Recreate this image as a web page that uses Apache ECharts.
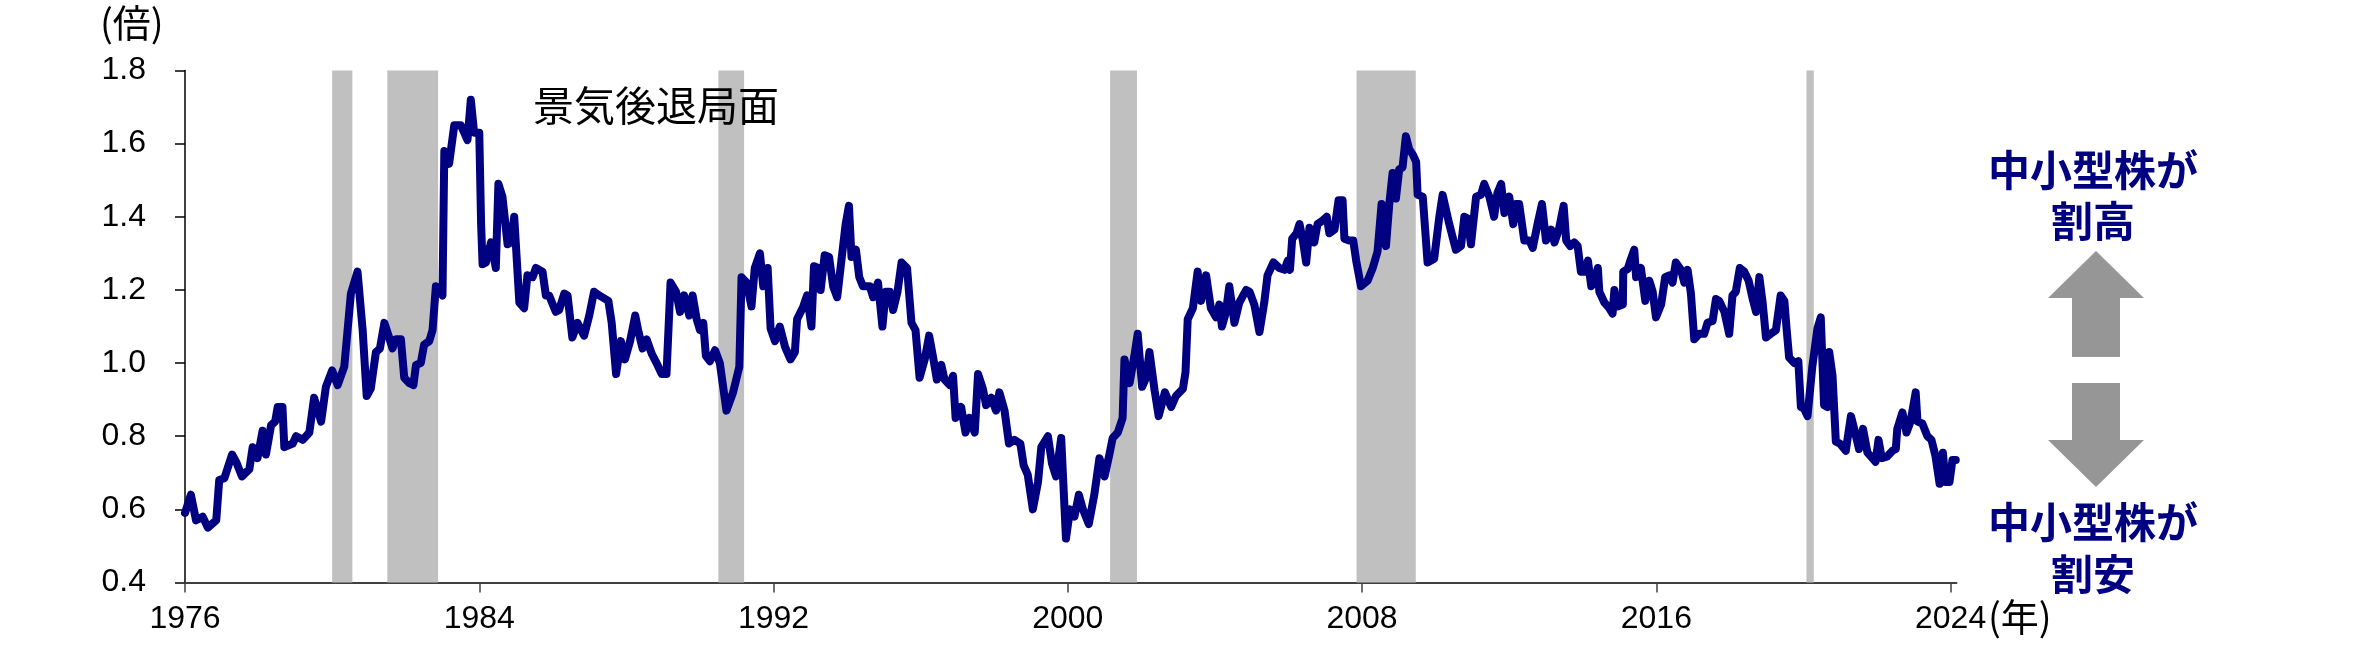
<!DOCTYPE html>
<html>
<head>
<meta charset="utf-8">
<script src="https://cdn.jsdelivr.net/npm/echarts@6/dist/echarts.min.js"></script>
<style>
html,body{margin:0;padding:0;background:#fff;}
#chart{width:2363px;height:659px;}
</style>
</head>
<body>
<div id="chart"></div>
<script>
// Decimal year of each observation
const dates = [
1976.00,1976.16,1976.30,1976.48,1976.62,1976.85,1976.93,1977.07,1977.28,1977.39,1977.55,1977.75,1977.84,1977.97,
1978.11,1978.20,1978.34,1978.45,1978.52,1978.65,1978.70,1978.93,1979.02,1979.20,1979.38,1979.51,1979.70,1979.83,
1980.00,1980.15,1980.33,1980.51,1980.69,1980.83,1980.94,1981.05,1981.19,1981.30,1981.42,1981.55,1981.64,1981.73,
1981.87,1981.96,1982.10,1982.21,1982.28,1982.41,1982.50,1982.64,1982.73,1982.82,1983.00,1983.05,1983.18,1983.32,
1983.50,1983.59,1983.68,1983.77,1983.86,1984.00,1984.05,1984.09,1984.18,1984.32,1984.45,1984.52,1984.63,1984.77,
1984.86,1984.95,1985.09,1985.22,1985.31,1985.45,1985.54,1985.72,1985.81,1985.90,1986.08,1986.17,1986.31,1986.40,
1986.53,1986.67,1986.85,1986.99,1987.12,1987.26,1987.51,1987.60,1987.72,1987.85,1987.96,1988.10,1988.24,1988.33,
1988.44,1988.55,1988.69,1988.82,1988.96,1989.09,1989.20,1989.35,1989.46,1989.57,1989.71,1989.80,1989.91,1990.00,
1990.09,1990.16,1990.27,1990.41,1990.54,1990.72,1990.90,1991.07,1991.13,1991.27,1991.40,1991.49,1991.63,1991.72,
1991.84,1991.92,1992.04,1992.17,1992.31,1992.46,1992.58,1992.64,1992.81,1992.91,1993.03,1993.10,1993.21,1993.28,
1993.39,1993.51,1993.62,1993.73,1993.85,1993.96,1994.05,1994.12,1994.24,1994.33,1994.43,1994.62,1994.71,1994.84,
1994.96,1995.05,1995.16,1995.25,1995.37,1995.48,1995.63,1995.75,1995.86,1995.97,1996.11,1996.23,1996.33,1996.44,
1996.56,1996.65,1996.79,1996.88,1996.95,1997.10,1997.22,1997.33,1997.47,1997.56,1997.69,1997.78,1997.92,1998.05,
1998.14,1998.28,1998.40,1998.55,1998.71,1998.80,1998.91,1999.05,1999.19,1999.28,1999.46,1999.57,1999.68,1999.82,
1999.95,2000.06,2000.18,2000.30,2000.41,2000.57,2000.72,2000.86,2001.00,2001.13,2001.22,2001.36,2001.49,2001.54,
2001.68,2001.81,2001.90,2002.02,2002.13,2002.22,2002.36,2002.47,2002.64,2002.81,2002.94,2003.13,2003.20,2003.26,
2003.40,2003.53,2003.62,2003.76,2003.89,2004.03,2004.12,2004.19,2004.30,2004.39,2004.53,2004.66,2004.85,2004.94,
2005.07,2005.21,2005.34,2005.43,2005.59,2005.75,2005.89,2005.98,2006.04,2006.10,2006.22,2006.30,2006.39,2006.48,
2006.57,2006.70,2006.79,2006.93,2007.04,2007.11,2007.25,2007.36,2007.47,2007.52,2007.65,2007.76,2007.84,2007.97,
2008.15,2008.29,2008.42,2008.53,2008.65,2008.74,2008.83,2008.92,2009.01,2009.10,2009.19,2009.28,2009.38,2009.47,
2009.51,2009.65,2009.78,2009.96,2010.10,2010.19,2010.37,2010.55,2010.69,2010.78,2010.87,2010.96,2011.10,2011.23,
2011.32,2011.46,2011.59,2011.68,2011.78,2011.87,2012.00,2012.11,2012.18,2012.27,2012.41,2012.55,2012.64,2012.77,
2012.89,2013.00,2013.14,2013.23,2013.35,2013.48,2013.55,2013.66,2013.77,2013.86,2013.95,2014.05,2014.14,2014.23,
2014.32,2014.41,2014.45,2014.59,2014.72,2014.81,2014.86,2014.95,2015.09,2015.10,2015.22,2015.31,2015.40,2015.45,
2015.58,2015.70,2015.81,2015.90,2015.99,2016.13,2016.24,2016.35,2016.44,2016.53,2016.67,2016.76,2016.85,2016.94,
2017.03,2017.17,2017.30,2017.39,2017.53,2017.62,2017.71,2017.85,2017.98,2018.07,2018.16,2018.27,2018.39,2018.51,
2018.62,2018.71,2018.80,2018.89,2018.98,2019.11,2019.25,2019.38,2019.48,2019.54,2019.61,2019.75,2019.86,2019.93,
2020.02,2020.11,2020.24,2020.38,2020.47,2020.56,2020.65,2020.70,2020.79,2020.88,2020.99,2021.15,2021.29,2021.38,
2021.51,2021.62,2021.74,2021.83,2021.96,2022.04,2022.13,2022.28,2022.42,2022.51,2022.55,2022.69,2022.80,2022.91,
2023.05,2023.10,2023.23,2023.37,2023.48,2023.59,2023.70,2023.79,2023.86,2023.97,2024.05,2024.14
];
// Relative valuation (times)
const ratios = [
0.59,0.64,0.57,0.58,0.55,0.57,0.68,0.685,0.75,0.73,0.69,0.71,0.77,0.74,
0.815,0.75,0.83,0.84,0.88,0.88,0.77,0.78,0.80,0.79,0.81,0.905,0.84,0.935,
0.98,0.94,0.99,1.19,1.25,1.09,0.91,0.93,1.03,1.04,1.11,1.07,1.04,1.065,
1.065,0.96,0.945,0.94,0.995,1.00,1.05,1.06,1.09,1.21,1.185,1.58,1.545,1.65,
1.65,1.63,1.61,1.72,1.63,1.63,1.38,1.27,1.275,1.33,1.26,1.49,1.455,1.325,
1.33,1.40,1.165,1.15,1.24,1.235,1.26,1.25,1.185,1.185,1.14,1.145,1.19,1.185,
1.07,1.11,1.075,1.13,1.195,1.185,1.17,1.11,0.97,1.06,1.01,1.06,1.13,1.085,
1.04,1.065,1.025,1.00,0.97,0.97,1.22,1.195,1.14,1.185,1.13,1.185,1.12,1.09,
1.11,1.02,1.005,1.035,1.00,0.87,0.92,0.99,1.235,1.22,1.155,1.26,1.30,1.21,
1.26,1.095,1.06,1.10,1.045,1.01,1.03,1.12,1.155,1.185,1.10,1.265,1.26,1.20,
1.295,1.29,1.21,1.18,1.285,1.38,1.43,1.29,1.31,1.235,1.21,1.21,1.18,1.22,
1.10,1.195,1.195,1.145,1.195,1.275,1.26,1.11,1.09,0.96,1.01,1.075,1.02,0.955,
0.995,0.955,0.94,0.965,0.85,0.88,0.81,0.85,0.81,0.97,0.93,0.885,0.905,0.87,
0.92,0.87,0.78,0.79,0.78,0.72,0.695,0.60,0.675,0.77,0.80,0.725,0.69,0.795,
0.52,0.60,0.58,0.64,0.60,0.56,0.64,0.74,0.69,0.75,0.795,0.81,0.85,1.01,
0.945,1.02,1.08,0.935,0.96,1.03,0.925,0.855,0.92,0.88,0.91,0.93,0.975,1.12,
1.15,1.25,1.17,1.24,1.15,1.125,1.16,1.10,1.14,1.21,1.11,1.165,1.20,1.195,
1.16,1.085,1.165,1.24,1.275,1.26,1.255,1.28,1.255,1.34,1.355,1.38,1.335,1.275,
1.37,1.33,1.38,1.39,1.40,1.355,1.365,1.445,1.445,1.34,1.335,1.335,1.28,1.21,
1.225,1.26,1.305,1.435,1.32,1.435,1.52,1.45,1.53,1.535,1.62,1.585,1.57,1.55,
1.46,1.455,1.275,1.285,1.40,1.46,1.38,1.31,1.32,1.40,1.395,1.325,1.455,1.46,
1.49,1.455,1.40,1.465,1.49,1.41,1.455,1.38,1.435,1.435,1.335,1.335,1.315,1.38,
1.435,1.335,1.365,1.33,1.365,1.43,1.335,1.32,1.33,1.32,1.25,1.25,1.28,1.21,
1.225,1.26,1.195,1.165,1.15,1.135,1.20,1.155,1.16,1.25,1.257,1.285,1.31,1.235,
1.26,1.17,1.225,1.195,1.125,1.16,1.235,1.24,1.22,1.275,1.255,1.22,1.255,1.19,
1.065,1.08,1.08,1.11,1.115,1.175,1.17,1.14,1.08,1.185,1.195,1.26,1.25,1.225,
1.175,1.14,1.235,1.165,1.07,1.08,1.09,1.185,1.17,1.095,1.015,1.00,1.005,0.88,
0.875,0.855,0.99,1.095,1.125,0.885,0.88,1.03,0.965,0.785,0.78,0.76,0.855,0.82,
0.765,0.82,0.755,0.745,0.73,0.79,0.74,0.745,0.76,0.765,0.82,0.865,0.81,0.84,
0.92,0.84,0.835,0.80,0.79,0.745,0.67,0.755,0.675,0.675,0.735,0.735
];
// US recession periods (decimal years)
const recessionStart = [1980.00, 1981.50, 1990.50, 2001.15, 2007.85, 2020.08];
const recessionEnd   = [1980.55, 1982.88, 1991.20, 2001.88, 2009.46, 2020.28];
// Axis ticks
const xTicks = [1976, 1984, 1992, 2000, 2008, 2016, 2024];
const yMin = 0.4, yMax = 1.8, yStep = 0.2;

const seriesData = dates.map((d, i) => [d, ratios[i]]);
const bands = recessionStart.map((s, i) => [{xAxis: s}, {xAxis: recessionEnd[i]}]);

const chart = echarts.init(document.getElementById('chart'), null, {renderer: 'canvas'});
const numFont = 'Liberation Sans, Arial, sans-serif';
const cjkFont = '"Noto Sans CJK JP", "Noto Sans", sans-serif';

chart.setOption({
  backgroundColor: '#ffffff',
  animation: false,
  grid: {left: 185, top: 70.5, width: 1771.5, height: 512, containLabel: false},
  xAxis: {
    type: 'value',
    min: 1976, max: 2024.16,
    interval: 8,
    splitLine: {show: false},
    axisLine: {show: true, lineStyle: {color: '#404040', width: 2}},
    axisTick: {show: true, length: 10, inside: false, customValues: xTicks, lineStyle: {color: '#404040', width: 1.5}},
    axisLabel: {show: true, customValues: xTicks, margin: 21, fontSize: 32, fontFamily: numFont, color: '#000',
      formatter: v => String(Math.round(v))}
  },
  yAxis: {
    type: 'value',
    min: yMin, max: yMax, interval: yStep,
    splitLine: {show: false},
    axisLine: {show: true, lineStyle: {color: '#000', width: 1.5}},
    axisTick: {show: true, length: 10, inside: false, lineStyle: {color: '#000', width: 1.5}},
    axisLabel: {margin: 39, fontSize: 32, fontFamily: numFont, color: '#000',
      formatter: v => v.toFixed(1)}
  },
  series: [
    {
      type: 'line', data: [], z: 1, silent: true,
      markArea: {silent: true, itemStyle: {color: '#C0C0C0', opacity: 1}, data: bands}
    },
    {
      type: 'line', data: seriesData, z: 3,
      showSymbol: false, symbol: 'none',
      lineStyle: {color: '#000080', width: 8, cap: 'round', join: 'round'}
    }
  ],
  graphic: [
    {type: 'text', z: 100, left: 100, top: 4, style: {text: '(倍)', fontSize: 38, fontFamily: cjkFont, fill: '#000'}},
    {type: 'text', z: 100, left: 533, top: 85, style: {text: '景気後退局面', fontSize: 41, fontFamily: cjkFont, fill: '#000'}},
    {type: 'text', z: 100, left: 1988, top: 598, style: {text: '(年)', fontSize: 38, fontFamily: cjkFont, fill: '#000'}},
    {type: 'text', z: 100, x: 2093, y: 170, style: {text: '中小型株が', fontSize: 42, fontWeight: 'bold', fontFamily: cjkFont, fill: '#000080', align: 'center', verticalAlign: 'middle'}},
    {type: 'text', z: 100, x: 2093, y: 221, style: {text: '割高', fontSize: 42, fontWeight: 'bold', fontFamily: cjkFont, fill: '#000080', align: 'center', verticalAlign: 'middle'}},
    {type: 'polygon', z: 100, shape: {points: [[2096,251],[2144,298],[2120,298],[2120,357],[2072,357],[2072,298],[2048,298]]}, style: {fill: '#969696'}},
    {type: 'polygon', z: 100, shape: {points: [[2072,383],[2120,383],[2120,440],[2144,440],[2096,487],[2048,440],[2072,440]]}, style: {fill: '#969696'}},
    {type: 'text', z: 100, x: 2093, y: 522, style: {text: '中小型株が', fontSize: 42, fontWeight: 'bold', fontFamily: cjkFont, fill: '#000080', align: 'center', verticalAlign: 'middle'}},
    {type: 'text', z: 100, x: 2093, y: 574, style: {text: '割安', fontSize: 42, fontWeight: 'bold', fontFamily: cjkFont, fill: '#000080', align: 'center', verticalAlign: 'middle'}}
  ]
});
</script>
</body>
</html>
